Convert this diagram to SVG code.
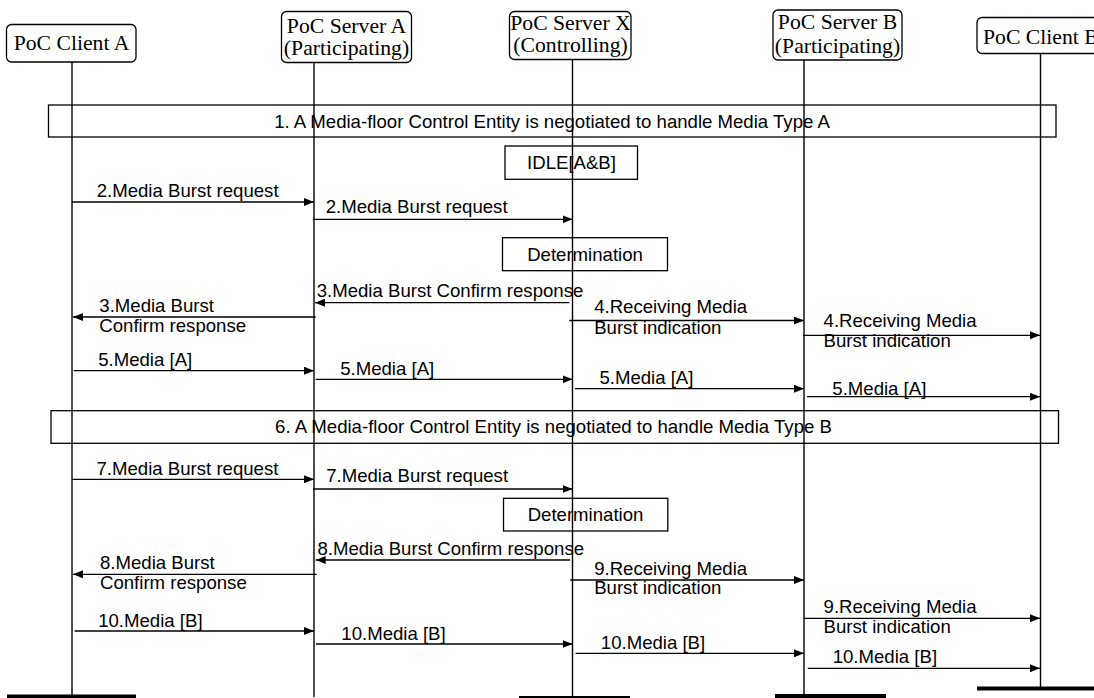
<svg xmlns="http://www.w3.org/2000/svg" width="1094" height="698" viewBox="0 0 1094 698">
<style>
.hdr{fill:#fff;stroke:#000;stroke-width:1.3}
.ht{font-family:"Liberation Serif","Times New Roman",serif;font-size:21.7px;fill:#000}
.box{fill:none;stroke:#000;stroke-width:1.3}
.life{stroke:#000;stroke-width:1.4;fill:none}
.bar{fill:#000}
.msg{stroke:#000;stroke-width:1.3;fill:none;marker-end:url(#ah)}
.lbl{font-family:"Liberation Sans",Arial,sans-serif;font-size:18.6px;fill:#000}
.mid{text-anchor:middle}
</style>
<defs>
<marker id="ah" markerUnits="userSpaceOnUse" markerWidth="10" markerHeight="8" refX="10" refY="4" orient="auto">
<path d="M0,0 L10,4 L0,8 z" fill="#000"/>
</marker>
</defs>

<g id="lifelines">
<line class="life" x1="72" y1="62" x2="72" y2="696"/>
<line class="life" x1="314" y1="63" x2="314" y2="697"/>
<line class="life" x1="572.5" y1="59" x2="572.5" y2="698"/>
<line class="life" x1="804" y1="60" x2="804" y2="696"/>
<line class="life" x1="1040.5" y1="53" x2="1040.5" y2="689"/>
<rect class="bar" x="7" y="694.5" width="129" height="4"/>
<rect class="bar" x="519" y="696" width="111" height="3"/>
<rect class="bar" x="775" y="694" width="111" height="4"/>
<rect class="bar" x="977" y="686.5" width="117" height="4"/>
</g>

<g id="client-a">
<rect class="hdr" x="6.5" y="24.5" width="129.5" height="37.5" rx="5"/>
<text class="ht mid" x="71.5" y="50">PoC Client A</text>
</g>
<g id="server-a">
<rect class="hdr" x="281.5" y="11.5" width="130" height="51" rx="5"/>
<text class="ht mid" x="346.5" y="32.5">PoC Server A</text>
<text class="ht mid" x="346.5" y="55">(Participating)</text>
</g>
<g id="server-x">
<rect class="hdr" x="509.5" y="11.5" width="121.5" height="48" rx="5"/>
<text class="ht mid" x="570.5" y="29.5">PoC Server X</text>
<text class="ht mid" x="570.5" y="52">(Controlling)</text>
</g>
<g id="server-b">
<rect class="hdr" x="773" y="10" width="129" height="50" rx="5"/>
<text class="ht mid" x="837.5" y="28.5">PoC Server B</text>
<text class="ht mid" x="837.5" y="53">(Participating)</text>
</g>
<g id="client-b">
<rect class="hdr" x="977" y="17.5" width="130" height="36" rx="5"/>
<text class="ht" x="983" y="44">PoC Client B</text>
</g>

<g id="step1">
<rect class="box" x="48.5" y="105" width="1007.5" height="32"/>
<text class="lbl mid" x="552" y="127.5">1. A Media-floor Control Entity is negotiated to handle Media Type A</text>
</g>
<g id="idle">
<rect class="box" x="505" y="146" width="132.5" height="33.3"/>
<text class="lbl mid" x="571.5" y="169.3">IDLE[A&amp;B]</text>
</g>
<g id="determination1">
<rect class="box" x="502.5" y="237.7" width="165" height="33"/>
<text class="lbl mid" x="585" y="260.7">Determination</text>
</g>
<g id="step6">
<rect class="box" x="51" y="410.7" width="1007.5" height="32.6"/>
<text class="lbl mid" x="553.5" y="433">6. A Media-floor Control Entity is negotiated to handle Media Type B</text>
</g>
<g id="determination2">
<rect class="box" x="503.5" y="498.3" width="164.3" height="32.7"/>
<text class="lbl mid" x="585.5" y="520.7">Determination</text>
</g>

<g id="connectors">
<line class="msg" x1="72" y1="202" x2="314" y2="202"/>
<line class="msg" x1="312.7" y1="219.3" x2="572.5" y2="219.3"/>
<line class="msg" x1="569.3" y1="302.7" x2="315" y2="302.7"/>
<line class="msg" x1="315.7" y1="317" x2="73" y2="317"/>
<line class="msg" x1="569.3" y1="320.5" x2="804" y2="320.5"/>
<line class="msg" x1="803" y1="335.3" x2="1040" y2="335.3"/>
<line class="msg" x1="73.7" y1="370.7" x2="314" y2="370.7"/>
<line class="msg" x1="315.7" y1="379.3" x2="572.5" y2="379.3"/>
<line class="msg" x1="575" y1="388.7" x2="804" y2="388.7"/>
<line class="msg" x1="807" y1="396.7" x2="1040" y2="396.7"/>
<line class="msg" x1="72" y1="479.3" x2="314" y2="479.3"/>
<line class="msg" x1="313" y1="489" x2="572.5" y2="489"/>
<line class="msg" x1="570" y1="560" x2="315.7" y2="560"/>
<line class="msg" x1="316.7" y1="574.3" x2="73" y2="574.3"/>
<line class="msg" x1="570.3" y1="580" x2="804" y2="580"/>
<line class="msg" x1="803.6" y1="618.3" x2="1040" y2="618.3"/>
<line class="msg" x1="74.7" y1="631" x2="314" y2="631"/>
<line class="msg" x1="316" y1="644" x2="572.5" y2="644"/>
<line class="msg" x1="575.6" y1="653.3" x2="804" y2="653.3"/>
<line class="msg" x1="807.8" y1="668.3" x2="1040" y2="668.3"/>
</g>

<g id="labels">
<text class="lbl" x="96.7" y="197.3">2.Media Burst request</text>
<text class="lbl" x="325.7" y="212.7">2.Media Burst request</text>
<text class="lbl" x="316.7" y="297.3">3.Media Burst Confirm response</text>
<text class="lbl" x="99.3" y="311.7">3.Media Burst</text>
<text class="lbl" x="99.3" y="331.7">Confirm response</text>
<text class="lbl" x="594.2" y="313.3">4.Receiving Media</text>
<text class="lbl" x="594.2" y="334">Burst indication</text>
<text class="lbl" x="823.6" y="326.7">4.Receiving Media</text>
<text class="lbl" x="823.6" y="347.3">Burst indication</text>
<text class="lbl" x="98.2" y="366">5.Media [A]</text>
<text class="lbl" x="340.2" y="375">5.Media [A]</text>
<text class="lbl" x="599.4" y="384">5.Media [A]</text>
<text class="lbl" x="832.3" y="395">5.Media [A]</text>
<text class="lbl" x="96.5" y="475">7.Media Burst request</text>
<text class="lbl" x="326.2" y="482.3">7.Media Burst request</text>
<text class="lbl" x="317.4" y="555">8.Media Burst Confirm response</text>
<text class="lbl" x="100" y="569">8.Media Burst</text>
<text class="lbl" x="100" y="589.3">Confirm response</text>
<text class="lbl" x="594.2" y="575">9.Receiving Media</text>
<text class="lbl" x="594.2" y="594">Burst indication</text>
<text class="lbl" x="823.6" y="613.3">9.Receiving Media</text>
<text class="lbl" x="823.6" y="633.3">Burst indication</text>
<text class="lbl" x="98.2" y="626.7">10.Media [B]</text>
<text class="lbl" x="341.3" y="640">10.Media [B]</text>
<text class="lbl" x="600.8" y="648.7">10.Media [B]</text>
<text class="lbl" x="832.7" y="662.7">10.Media [B]</text>
</g>
</svg>
